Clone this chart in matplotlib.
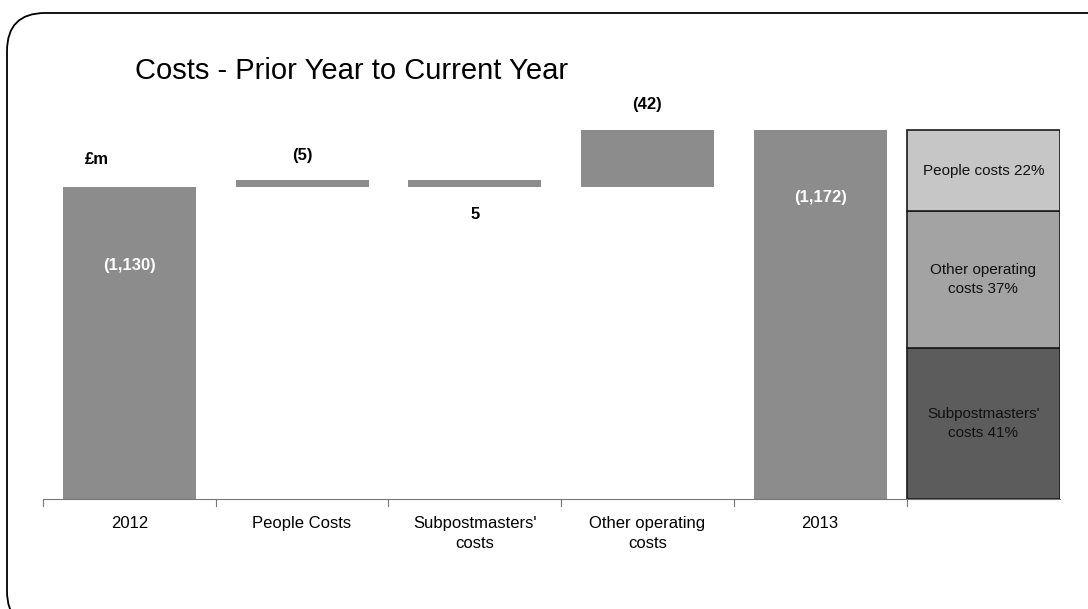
import matplotlib.pyplot as plt
from matplotlib.patches import FancyBboxPatch

# waterfall data, £m
categories = ["2012", "People Costs", "Subpostmasters'\ncosts", "Other operating\ncosts", "2013"]
opening = 1130
changes = [5, -5, 42]
closing = 1172
value_labels = ["(1,130)", "(5)", "5", "(42)", "(1,172)"]

# 2013 cost mix
mix_labels = ["Subpostmasters'\ncosts 41%", "Other operating\ncosts 37%", "People costs 22%"]
mix_pct = [41, 37, 22]
mix_colors = ["#5c5c5c", "#a3a3a3", "#c6c6c6"]

plt.rcParams['font.family'] = ['Liberation Sans', 'DejaVu Sans']

fig = plt.figure(figsize=(10.88, 6.09), dpi=100)
ax = fig.add_axes([0.0395, 0.1806, 0.935, 0.655])

base = 900
bar_color = "#8c8c8c"
w = 0.77

# totals
ax.bar(0, opening, width=w, color=bar_color)
ax.bar(4, closing, width=w, color=bar_color)

# floating steps
level = opening
for i, d in enumerate(changes, start=1):
    lo = min(level, level + d)
    ax.bar(i, abs(d), bottom=lo, width=w, color=bar_color)
    level += d

# stacked mix bar to the right
mix_left = 4.5
mix_w = 0.89
bottom = base
span = closing - base
for lab, p, c in zip(mix_labels, mix_pct, mix_colors):
    h = span * p / 100
    ax.bar(mix_left, h, bottom=bottom, width=mix_w, align='edge',
           color=c, edgecolor="#1a1a1a", linewidth=1.2)
    ax.text(mix_left + mix_w / 2, bottom + h / 2, lab, ha='center', va='center',
            fontsize=11, color="#111111", linespacing=1.4)
    bottom += h

ax.set_xlim(-0.5, mix_left + mix_w)
ax.set_ylim(base, base + 294)

# value labels
lbl = dict(ha='center', va='center', fontsize=12, fontweight='bold')
ax.text(0, 1072, value_labels[0], color='white', **lbl)
ax.text(1, 1153, value_labels[1], **lbl)
ax.text(2, 1110, value_labels[2], **lbl)
ax.text(3, 1191, value_labels[3], clip_on=False, **lbl)
ax.text(4, 1122, value_labels[4], color='white', **lbl)
ax.text(-0.19, 1150, "£m", **lbl)

# axis styling
for s in ["top", "right", "left"]:
    ax.spines[s].set_visible(False)
ax.spines["bottom"].set_color("#777777")
ax.set_yticks([])
ax.set_xticks(range(5))
ax.set_xticklabels(categories, fontsize=12, linespacing=1.45)
ax.tick_params(axis='x', length=0, pad=12)
for xb in [-0.5, 0.5, 1.5, 2.5, 3.5, 4.5]:
    ax.plot([xb, xb], [base, base - 5], color="#777777", lw=0.8, clip_on=False)

fig.text(0.124, 0.883, "Costs - Prior Year to Current Year", fontsize=21, va='center')

# rounded frame round the slide
frame = FancyBboxPatch((7 / 1088, -20 / 609), 1.1, (609 - 13 + 20) / 609,
                       boxstyle="round,pad=0,rounding_size=0.035",
                       transform=fig.transFigure, fill=False,
                       edgecolor="black", linewidth=1.3, mutation_aspect=1088 / 609)
fig.patches.append(frame)

fig.savefig("out.png", dpi=100)
